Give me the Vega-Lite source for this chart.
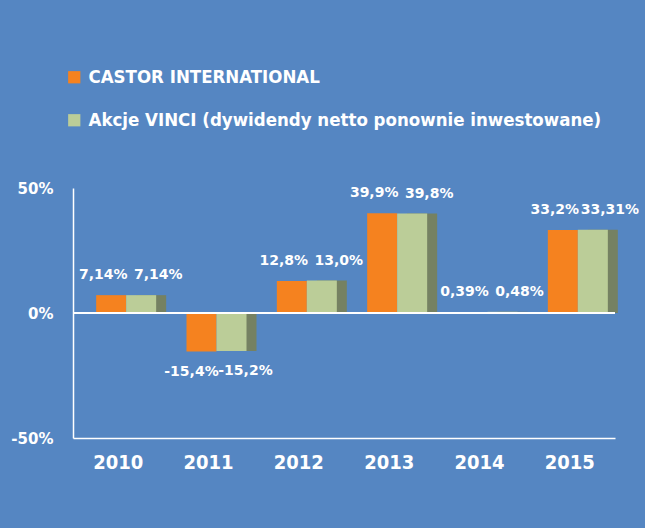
{
  "$schema": "https://vega.github.io/schema/vega-lite/v6.json",
  "width": 542,
  "height": 250,
  "autosize": {"type": "none"},
  "padding": {"left": 73, "top": 188, "right": 30, "bottom": 90},
  "background": "#5586C2",
  "config": {"view": {"stroke": null}, "font": "DejaVu Sans"},
  "data": {"values": [
    {"year": "2010", "series": "CASTOR INTERNATIONAL", "value": 7.14, "label": "7,14%"},
    {"year": "2010", "series": "Akcje VINCI (dywidendy netto ponownie inwestowane)", "value": 7.14, "label": "7,14%"},
    {"year": "2011", "series": "CASTOR INTERNATIONAL", "value": -15.4, "label": "-15,4%"},
    {"year": "2011", "series": "Akcje VINCI (dywidendy netto ponownie inwestowane)", "value": -15.2, "label": "-15,2%"},
    {"year": "2012", "series": "CASTOR INTERNATIONAL", "value": 12.8, "label": "12,8%"},
    {"year": "2012", "series": "Akcje VINCI (dywidendy netto ponownie inwestowane)", "value": 13.0, "label": "13,0%"},
    {"year": "2013", "series": "CASTOR INTERNATIONAL", "value": 39.9, "label": "39,9%"},
    {"year": "2013", "series": "Akcje VINCI (dywidendy netto ponownie inwestowane)", "value": 39.8, "label": "39,8%"},
    {"year": "2014", "series": "CASTOR INTERNATIONAL", "value": 0.39, "label": "0,39%"},
    {"year": "2014", "series": "Akcje VINCI (dywidendy netto ponownie inwestowane)", "value": 0.48, "label": "0,48%"},
    {"year": "2015", "series": "CASTOR INTERNATIONAL", "value": 33.2, "label": "33,2%"},
    {"year": "2015", "series": "Akcje VINCI (dywidendy netto ponownie inwestowane)", "value": 33.31, "label": "33,31%"}
  ]},
  "layer": [
    {
      "transform": [{"filter": "datum.series != 'CASTOR INTERNATIONAL'"}],
      "mark": {"type": "bar", "color": "#758162", "width": 30, "xOffset": 33},
      "encoding": {
        "x": {"field": "year", "type": "nominal", "scale": {"paddingInner": 0, "paddingOuter": 0},
          "axis": {"title": null, "labelAngle": 0, "ticks": false, "domainColor": "white", "domainWidth": 1.5,
            "labelColor": "white", "labelFont": "DejaVu Sans Condensed", "labelFontWeight": "bold", "labelFontSize": 20, "labelPadding": 14}},
        "y": {"field": "value", "type": "quantitative", "scale": {"domain": [-50, 50], "nice": false},
          "axis": {"values": [-50, 0, 50], "labelExpr": "datum.value + '%'", "title": null, "ticks": false, "grid": false,
            "domainColor": "white", "domainWidth": 1.5, "labelColor": "white", "labelFont": "DejaVu Sans", "labelFontWeight": "bold", "labelFontSize": 15, "labelPadding": 20}}
      }
    },
    {
      "transform": [{"filter": "datum.series == 'CASTOR INTERNATIONAL'"}],
      "mark": {"type": "bar", "width": 30, "xOffset": -7},
      "encoding": {
        "x": {"field": "year", "type": "nominal"},
        "y": {"field": "value", "type": "quantitative"},
        "color": {"field": "series", "type": "nominal",
          "scale": {"domain": ["CASTOR INTERNATIONAL", "Akcje VINCI (dywidendy netto ponownie inwestowane)"], "range": ["#F5821F", "#BBCD98"]},
          "legend": {"orient": "none", "legendX": -8, "legendY": -120, "title": null, "direction": "vertical",
            "symbolType": "square", "symbolSize": 150, "symbolStrokeWidth": 0,
            "labelFont": "DejaVu Sans Condensed", "labelFontSize": 18.5, "labelFontWeight": "bold", "labelColor": "white",
            "rowPadding": 24, "labelOffset": 5, "labelLimit": 700}}
      }
    },
    {
      "transform": [{"filter": "datum.series != 'CASTOR INTERNATIONAL'"}],
      "mark": {"type": "bar", "width": 30, "xOffset": 23},
      "encoding": {
        "x": {"field": "year", "type": "nominal"},
        "y": {"field": "value", "type": "quantitative"},
        "color": {"field": "series", "type": "nominal"}
      }
    },
    {
      "data": {"values": [{}]},
      "mark": {"type": "rule", "color": "white", "strokeWidth": 2},
      "encoding": {"y": {"datum": 0, "type": "quantitative"}}
    },
    {
      "transform": [{"filter": "datum.series == 'CASTOR INTERNATIONAL' && datum.value >= 0"}],
      "mark": {"type": "text", "color": "white", "fontWeight": "bold", "fontSize": 14, "dx": -15, "dy": -20, "baseline": "middle"},
      "encoding": {"x": {"field": "year", "type": "nominal"}, "y": {"field": "value", "type": "quantitative"}, "text": {"field": "label"}}
    },
    {
      "transform": [{"filter": "datum.series != 'CASTOR INTERNATIONAL' && datum.value >= 0"}],
      "mark": {"type": "text", "color": "white", "fontWeight": "bold", "fontSize": 14, "dx": 40, "dy": -20, "baseline": "middle"},
      "encoding": {"x": {"field": "year", "type": "nominal"}, "y": {"field": "value", "type": "quantitative"}, "text": {"field": "label"}}
    },
    {
      "transform": [{"filter": "datum.series == 'CASTOR INTERNATIONAL' && datum.value < 0"}],
      "mark": {"type": "text", "color": "white", "fontWeight": "bold", "fontSize": 14, "dx": -17, "dy": 20, "baseline": "middle"},
      "encoding": {"x": {"field": "year", "type": "nominal"}, "y": {"field": "value", "type": "quantitative"}, "text": {"field": "label"}}
    },
    {
      "transform": [{"filter": "datum.series != 'CASTOR INTERNATIONAL' && datum.value < 0"}],
      "mark": {"type": "text", "color": "white", "fontWeight": "bold", "fontSize": 14, "dx": 37, "dy": 20, "baseline": "middle"},
      "encoding": {"x": {"field": "year", "type": "nominal"}, "y": {"field": "value", "type": "quantitative"}, "text": {"field": "label"}}
    }
  ]
}
